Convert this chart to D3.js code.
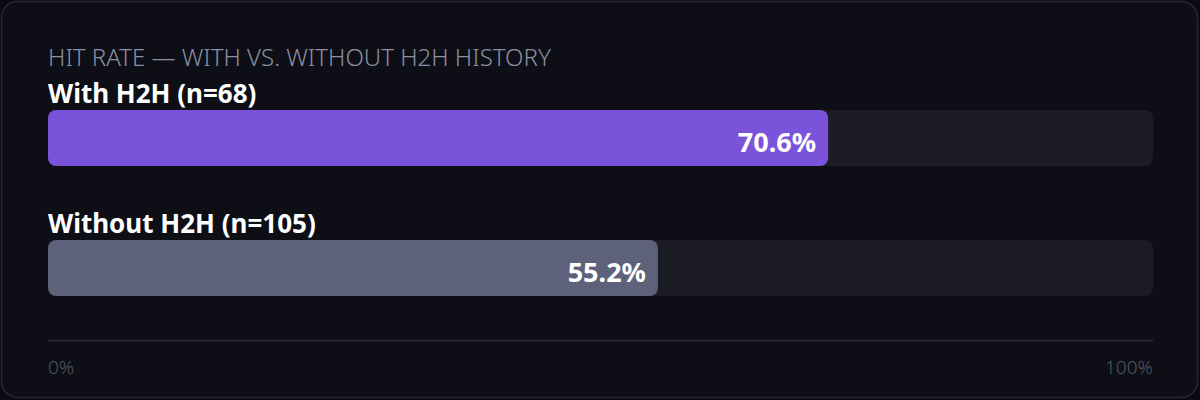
<!DOCTYPE html>
<html>
<head>
<meta charset="utf-8">
<script src="https://cdn.jsdelivr.net/npm/d3@7"></script>
<style>
  html, body { margin: 0; padding: 0; background: #0a0b12; }
  svg { display: block; }
</style>
</head>
<body>
<svg id="chart"></svg>
<script>
// data
const groups  = ["With H2H", "Without H2H"];
const counts  = [68, 105];
const rates   = [70.6, 55.2];
const colors  = ["#7b53db", "#5d6179"];
const axisTicks = [0, 100];

const W = 1200, H = 400;
const X0 = 48, X1 = 1153;
const FONT = "'Noto Sans', 'Open Sans', sans-serif";

const svg = d3.select("#chart").attr("width", W).attr("height", H);

// card
svg.append("rect")
   .attr("x", 1.5).attr("y", 1.5)
   .attr("width", W - 4).attr("height", H - 4)
   .attr("rx", 16)
   .attr("fill", "#0d0e16")
   .attr("stroke", "#272833")
   .attr("stroke-width", 1.5);

svg.append("text")
   .attr("x", X0).attr("y", 66)
   .attr("font-family", FONT)
   .attr("font-size", 24)
   .attr("font-weight", 300)
   .attr("fill", "#8b8fa2")
   .text("HIT RATE — WITH VS. WITHOUT H2H HISTORY");

const x = d3.scaleLinear().domain([0, 100]).range([X0, X1]);

const y = d3.scaleBand()
   .domain(groups)
   .range([110, 370])
   .paddingInner(0);

const BAR_H = 56;

const rows = svg.selectAll("g.row")
   .data(groups.map((g, i) => ({ g, n: counts[i], v: rates[i], c: colors[i] })))
   .join("g")
   .attr("class", "row")
   .attr("transform", d => `translate(0,${y(d.g)})`);

rows.append("text")
   .attr("x", X0).attr("y", -7)
   .attr("font-family", FONT)
   .attr("font-size", 26)
   .attr("font-weight", 700)
   .attr("fill", "#ffffff")
   .text(d => `${d.g} (n=${d.n})`);

// track
rows.append("rect")
   .attr("x", x(0)).attr("y", 0)
   .attr("width", x(100) - x(0)).attr("height", BAR_H)
   .attr("rx", 8)
   .attr("fill", "#1c1c25");

// value bar
rows.append("rect")
   .attr("x", x(0)).attr("y", 0)
   .attr("width", d => x(d.v) - x(0)).attr("height", BAR_H)
   .attr("rx", 8)
   .attr("fill", d => d.c);

rows.append("text")
   .attr("x", d => x(d.v) - 12).attr("y", 42)
   .attr("text-anchor", "end")
   .attr("font-family", FONT)
   .attr("font-size", 27)
   .attr("font-weight", 700)
   .attr("fill", "#ffffff")
   .text(d => d.v.toFixed(1) + "%");

// axis
svg.append("line")
   .attr("x1", x(0)).attr("x2", x(100))
   .attr("y1", 340.5).attr("y2", 340.5)
   .attr("stroke", "#272833")
   .attr("stroke-width", 2);

svg.selectAll("text.tick")
   .data(axisTicks)
   .join("text")
   .attr("class", "tick")
   .attr("x", d => x(d))
   .attr("y", 374)
   .attr("text-anchor", (d, i) => i === 0 ? "start" : "end")
   .attr("font-family", FONT)
   .attr("font-size", 19)
   .attr("font-weight", 300)
   .attr("fill", "#555868")
   .text(d => d + "%");
</script>
</body>
</html>
